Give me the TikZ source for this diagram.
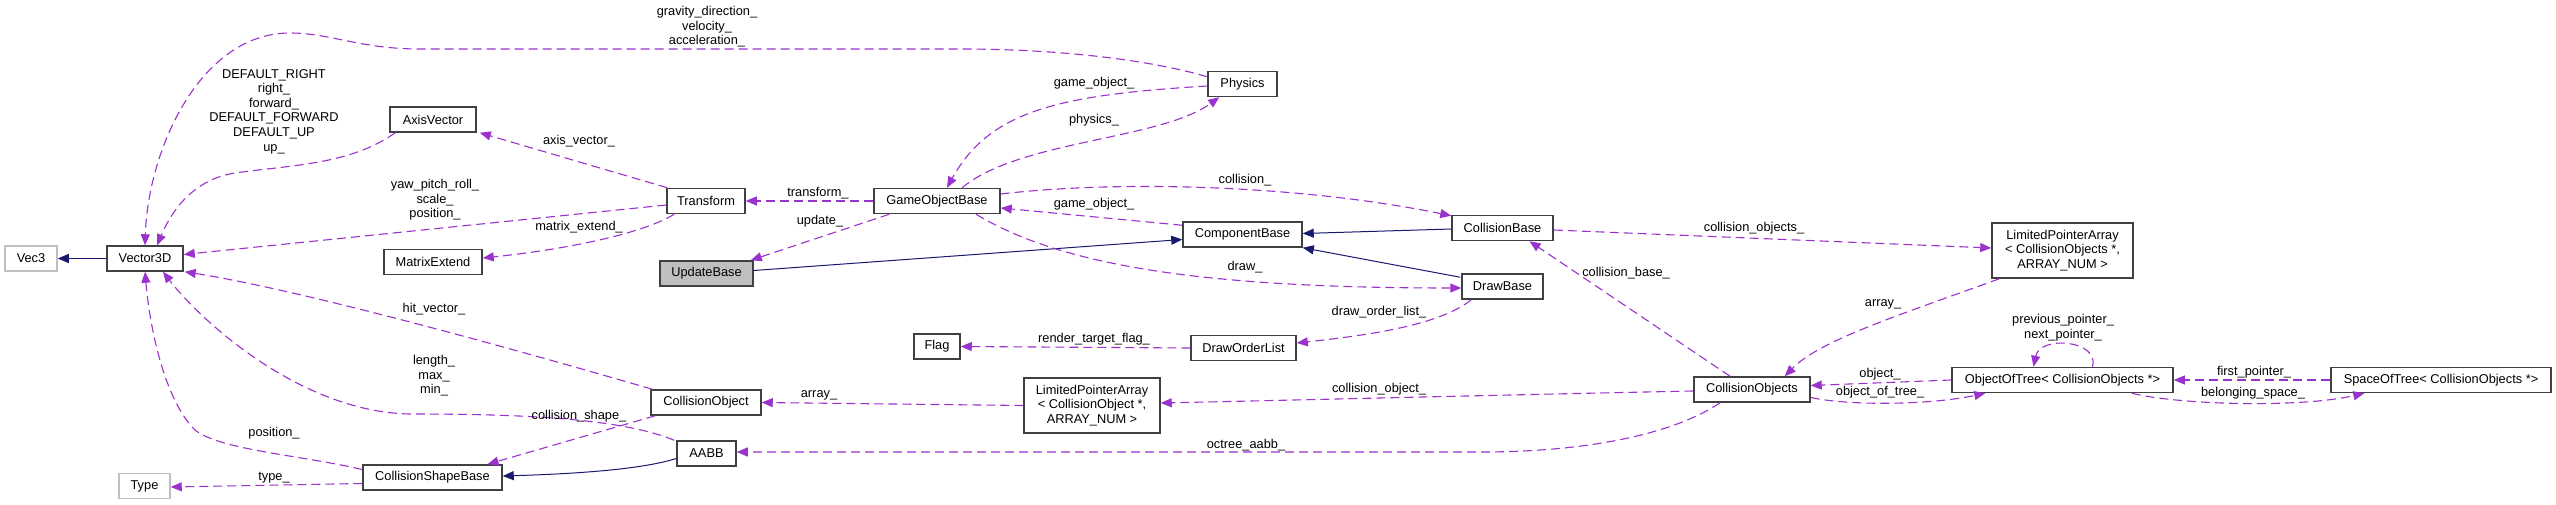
\documentclass[tikz,border=0pt]{standalone}
\usepackage{fontspec}
\setmainfont{Liberation Sans}
\usetikzlibrary{arrows.meta,calc}
\definecolor{purp}{HTML}{9A32CD}
\definecolor{navy}{HTML}{191970}
\definecolor{lgray}{HTML}{BFBFBF}
\begin{document}
\begin{tikzpicture}[x=1pt,y=-1pt,
  box/.style={draw=black!75, line width=1.5pt, fill=white, inner sep=0pt, minimum height=25pt, font=\fontsize{12.8}{14.6}\selectfont, align=center},
  gbox/.style={box, draw=lgray},
  usage/.style={draw=purp, dash pattern=on 9pt off 5pt, line width=1.1pt, -{Triangle[length=11pt,width=9pt,fill=purp]}},
  inherit/.style={draw=navy, line width=1pt, -{Triangle[length=11pt,width=9pt,fill=navy]}},
  lbl/.style={inner sep=0pt, font=\fontsize{12.8}{14.6}\selectfont, align=center, text=black}
]
\fill[white] (0,0) rectangle (2556,505);
\useasboundingbox (0,0) rectangle (2556,505);

% nodes
\node[gbox, minimum width=52pt]  (Vec3) at (31,258.5) {Vec3};
\node[box, minimum width=76pt]   (V3D)  at (145,258.5) {Vector3D};
\node[box, minimum width=86pt]   (AV)   at (433,119.5) {AxisVector};
\node[box, minimum width=78pt]   (Tr)   at (706,201) {Transform};
\node[box, minimum width=98pt]   (ME)   at (433,262) {MatrixExtend};
\node[box, minimum width=93pt, fill=lgray] (UB) at (706.5,273.5) {UpdateBase};
\node[box, minimum width=126pt]  (GOB)  at (937,201) {GameObjectBase};
\node[box, minimum width=69pt]   (Phy)  at (1242.5,84) {Physics};
\node[box, minimum width=119pt]  (CB)   at (1242.5,234.5) {ComponentBase};
\node[box, minimum width=101pt]  (CoB)  at (1502.5,228) {CollisionBase};
\node[box, minimum width=81pt]   (DB)   at (1502.5,286.5) {DrawBase};
\node[box, minimum width=141pt, minimum height=55pt] (LPA2) at (2062.5,250.5) {LimitedPointerArray\\< CollisionObjects *,\\ ARRAY\_NUM >};
\node[box, minimum width=46pt]   (Flag) at (937,346.5) {Flag};
\node[box, minimum width=105pt]  (DOL)  at (1243.5,348) {DrawOrderList};
\node[box, minimum width=136pt, minimum height=55pt] (LPA1) at (1092,405.5) {LimitedPointerArray\\< CollisionObject *,\\ ARRAY\_NUM >};
\node[box, minimum width=110pt]  (CO)   at (706,402.5) {CollisionObject};
\node[box, minimum width=59pt]   (AABB) at (706.5,453.5) {AABB};
\node[box, minimum width=139pt]  (CSB)  at (432.5,477.5) {CollisionShapeBase};
\node[gbox, minimum width=51pt]  (Type) at (144.5,486) {Type};
\node[box, minimum width=116pt]  (COs)  at (1752,389.5) {CollisionObjects};
\node[box, minimum width=221pt]  (OOT)  at (2062.5,380) {ObjectOfTree< CollisionObjects *>};
\node[box, minimum width=220pt]  (SOT)  at (2441,380) {SpaceOfTree< CollisionObjects *>};

% edges
\draw[inherit] (V3D.west) -- (Vec3.east);
\draw[usage] ($(Phy.north west)+(0,6)$) .. controls (1150,60) and (1060,49) .. (960,49) -- (420,49) .. controls (360,49) and (330,33) .. (290,33) .. controls (200,33) and (148,150) .. (V3D.north);
\draw[usage] ($(AV.south west)+(6,0)$) .. controls (350,165) and (290,165) .. (235,173) .. controls (190,180) and (170,215) .. ($(V3D.north)+(12,0)$);
\draw[usage] ($(Tr.north west)+(1,0)$) -- ($(AV.south east)+(3,0)$);
\draw[usage] ($(Tr.west)+(0,4)$) -- ($(V3D.east)+(0,-4)$);
\draw[usage] ($(Tr.south west)+(8,0)$) .. controls (640,235) and (560,250) .. ($(ME.east)+(0,-4)$);
\draw[usage] (GOB.west) -- (Tr.east);
\draw[usage] ($(GOB.south west)+(16,0)$) -- ($(UB.north east)+(-3,0)$);
\draw[usage] ($(Phy.west)+(0,2)$) .. controls (1060,95) and (990,110) .. ($(GOB.north)+(10,0)$);
\draw[usage] ($(GOB.north)+(25,0)$) .. controls (1020,140) and (1160,140) .. ($(Phy.south west)+(12,0)$);
\draw[usage] ($(GOB.east)+(0,-7)$) .. controls (1120,180) and (1300,185) .. ($(CoB.north west)+(0,1)$);
\draw[usage] ($(CB.north west)+(0,4)$) -- ($(GOB.east)+(0,7)$);
\draw[inherit] ($(UB.east)+(0,-3)$) -- ($(CB.west)+(0,5)$);
\draw[inherit] ($(CoB.west)+(0,1)$) -- ($(CB.east)+(0,-1)$);
\draw[inherit] ($(DB.north west)+(-1,4)$) -- (CB.south east);
\draw[usage] ($(GOB.south)+(39,0)$) .. controls (1060,265) and (1200,288) .. ($(DB.west)+(0,1.5)$);
\draw[usage] ($(DB.south west)+(10,0)$) .. controls (1440,325) and (1370,335) .. ($(DOL.east)+(0,-5)$);
\draw[usage] (DOL.west) -- (Flag.east);
\draw[usage] ($(CoB.east)+(0,2)$) -- ($(LPA2.west)+(0,-2.5)$);
\draw[usage] ($(COs.north)+(-22,0)$) -- ($(CoB.south)+(27,0)$);
\draw[usage] ($(LPA2.south west)+(8,0)$) .. controls (1900,315) and (1820,340) .. ($(COs.north east)+(-26,0)$);
\draw[usage] ($(COs.west)+(0,1.5)$) .. controls (1500,395) and (1300,400) .. ($(LPA1.east)+(0,-2.5)$);
\draw[usage] (LPA1.west) -- (CO.east);
\draw[usage] ($(COs.south)+(-32,0)$) .. controls (1680,430) and (1600,452) .. (1480,452) -- ($(AABB.east)+(0,-1.5)$);
\draw[usage] (OOT.west) -- ($(COs.east)+(0,-4)$);
\draw[usage] ($(COs.east)+(0,8)$) .. controls (1850,406) and (1930,405) .. ($(OOT.south west)+(34,0)$);
\draw[usage] ($(OOT.north)+(30,0)$) .. controls (2100,340) and (2040,335) .. ($(OOT.north)+(-29,0)$);
\draw[usage] (SOT.west) -- (OOT.east);
\draw[usage] ($(OOT.south east)+(-42,0)$) .. controls (2180,405) and (2300,408) .. ($(SOT.south west)+(34,0)$);
\draw[usage] ($(CO.north west)+(2,0)$) .. controls (500,345) and (300,290) .. ($(V3D.south east)+(1,0)$);
\draw[usage] ($(AABB.north west)+(-2,0)$) .. controls (620,418) and (520,414) .. (410,414) .. controls (300,412) and (200,320) .. ($(V3D.south)+(18,0)$);
\draw[usage] ($(CSB.west)+(0,-8)$) .. controls (300,455) and (220,450) .. (195,430) .. controls (165,400) and (150,330) .. (V3D.south);
\draw[usage] ($(CO.south west)+(5,0)$) -- ($(CSB.north)+(55,0)$);
\draw[inherit] ($(AABB.west)+(0,5)$) .. controls (640,470) and (570,474) .. ($(CSB.east)+(0,-1.5)$);
\draw[usage] ($(CSB.west)+(0,6)$) -- ($(Type.east)+(0,1)$);

% labels
\node[lbl] (l1) at (707,27) {gravity\_direction\_\\velocity\_\\acceleration\_};
\node[lbl] (l2) at (274,111.5) {DEFAULT\_RIGHT\\right\_\\forward\_\\DEFAULT\_FORWARD\\DEFAULT\_UP\\up\_};
\node[lbl] (l3) at (579,141) {axis\_vector\_};
\node[lbl] (l4) at (435,200) {yaw\_pitch\_roll\_\\scale\_\\position\_};
\node[lbl] (l5) at (579,227) {matrix\_extend\_};
\node[lbl] (l6) at (818,193) {transform\_};
\node[lbl] (l7) at (820,221) {update\_};
\node[lbl] (l8) at (1094,83) {game\_object\_};
\node[lbl] (l9) at (1094,120) {physics\_};
\node[lbl] (l10) at (1245,180) {collision\_};
\node[lbl] (l11) at (1094,204) {game\_object\_};
\node[lbl] (l12) at (1245,267) {draw\_};
\node[lbl] (l13) at (1379,312) {draw\_order\_list\_};
\node[lbl] (l14) at (1094,339) {render\_target\_flag\_};
\node[lbl] (l15) at (1379,389) {collision\_object\_};
\node[lbl] (l16) at (819,395) {array\_};
\node[lbl] (l17) at (1246,445) {octree\_aabb\_};
\node[lbl] (l18) at (1754,228) {collision\_objects\_};
\node[lbl] (l19) at (1626,273) {collision\_base\_};
\node[lbl] (l20) at (1883,304) {array\_};
\node[lbl] (l21) at (2063,327.5) {previous\_pointer\_\\next\_pointer\_};
\node[lbl] (l22) at (1880,374) {object\_};
\node[lbl] (l23) at (1880,392) {object\_of\_tree\_};
\node[lbl] (l24) at (2254,372) {first\_pointer\_};
\node[lbl] (l25) at (2253,393) {belonging\_space\_};
\node[lbl] (l26) at (434,309) {hit\_vector\_};
\node[lbl] (l27) at (434,376) {length\_\\max\_\\min\_};
\node[lbl] (l28) at (579,416) {collision\_shape\_};
\node[lbl] (l29) at (274,433) {position\_};
\node[lbl] (l30) at (274,478) {type\_};
\end{tikzpicture}
\end{document}
